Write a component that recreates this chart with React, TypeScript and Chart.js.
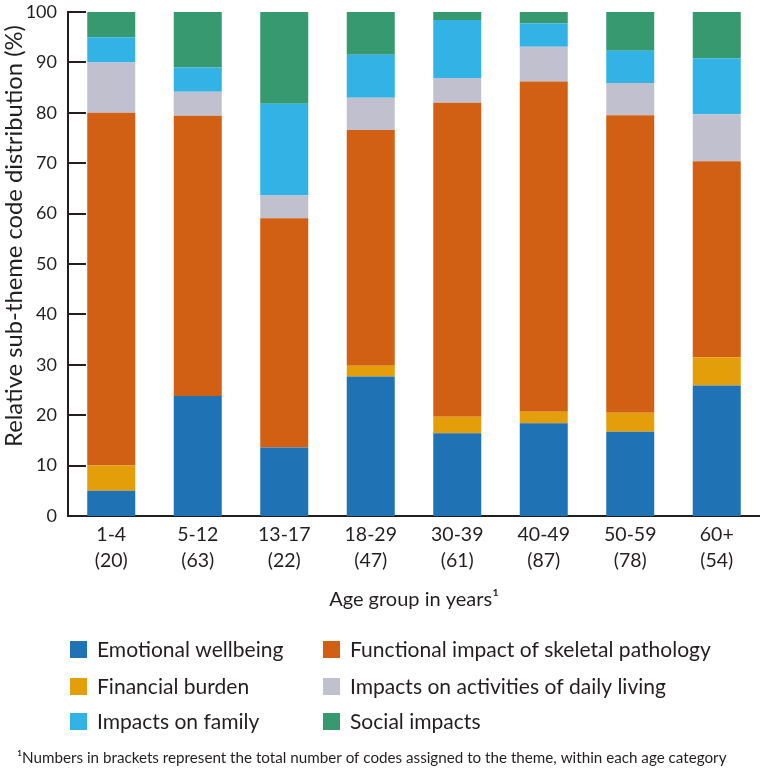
import React, { useEffect, useRef } from "react";
import { Chart, registerables } from "chart.js";

Chart.register(...registerables);

const ageGroups = ["1-4", "5-12", "13-17", "18-29", "30-39", "40-49", "50-59", "60+"];
const codeCounts = ["(20)", "(63)", "(22)", "(47)", "(61)", "(87)", "(78)", "(54)"];

const emotional = [5.0, 23.8, 13.6, 27.7, 16.4, 18.4, 16.7, 25.9];
const financial = [5.0, 0, 0, 2.1, 3.3, 2.3, 3.8, 5.6];
const functional = [70.0, 55.6, 45.5, 46.8, 62.3, 65.5, 59.0, 38.9];
const dailyLiving = [10.0, 4.8, 4.5, 6.4, 4.9, 6.9, 6.4, 9.3];
const family = [5.0, 4.8, 18.2, 8.5, 11.5, 4.6, 6.4, 11.1];
const social = [5.0, 11.1, 18.2, 8.5, 1.6, 2.3, 7.7, 9.3];

const seriesNames = [
  "Emotional wellbeing",
  "Functional impact of skeletal pathology",
  "Financial burden",
  "Impacts on activities of daily living",
  "Impacts on family",
  "Social impacts",
];
const seriesColors = ["#1f72b3", "#d16015", "#e49e09", "#c1c0cf", "#33b2e5", "#36996f"];
const seriesValues = [emotional, functional, financial, dailyLiving, family, social];
// stacking order bottom -> top
const stackOrder = [0, 2, 1, 3, 4, 5];

const yTitle = "Relative sub-theme code distribution (%)";
const xTitle = "Age group in years\u00B9";
const footnote =
  "\u00B9Numbers in brackets represent the total number of codes assigned to the theme, within each age category";

const FONT = "Lato, 'Open Sans', sans-serif";
const INK = "#231f20";

function fitSize(ctx: CanvasRenderingContext2D, text: string, target: number) {
  ctx.font = `20px ${FONT}`;
  const w = ctx.measureText(text).width;
  return (20 * target) / w;
}

const decorPlugin = {
  id: "decor",
  afterDraw(chart: any) {
    const ctx = chart.ctx as CanvasRenderingContext2D;
    const area = chart.chartArea;
    const y = chart.scales.y;
    ctx.save();
    // inward tick marks
    ctx.strokeStyle = INK;
    ctx.lineWidth = 2;
    y.ticks.forEach((t: any) => {
      const py = Math.round(y.getPixelForValue(t.value));
      ctx.beginPath();
      ctx.moveTo(area.left, py);
      ctx.lineTo(area.left + 18, py);
      ctx.stroke();
    });
    ctx.fillStyle = INK;
    // y title
    const ySize = fitSize(ctx, yTitle, 422);
    ctx.save();
    ctx.translate(14, 236);
    ctx.rotate(-Math.PI / 2);
    ctx.font = `${ySize}px ${FONT}`;
    ctx.textAlign = "center";
    ctx.textBaseline = "middle";
    ctx.fillText(yTitle, 0, 0);
    ctx.restore();
    // x title
    ctx.font = `20px ${FONT}`;
    ctx.textAlign = "center";
    ctx.textBaseline = "middle";
    ctx.fillText(xTitle, (area.left + area.right) / 2, 600);
    // legend (2 columns x 3 rows)
    const colX = [70, 323];
    const rowY = [649, 686, 721];
    const legSize = fitSize(ctx, seriesNames[1], 361);
    ctx.textAlign = "left";
    ctx.font = `${legSize}px ${FONT}`;
    chart.data.datasets.forEach((ds: any) => {
      const nameIdx = seriesNames.indexOf(ds.label);
      const c = nameIdx % 2;
      const r = Math.floor(nameIdx / 2);
      ctx.fillStyle = ds.backgroundColor;
      ctx.fillRect(colX[c], rowY[r] - 8, 17, 17);
      ctx.fillStyle = INK;
      ctx.fillText(ds.label, colX[c] + 27, rowY[r] + 1);
    });
    // footnote
    const fnSize = fitSize(ctx, footnote, 710);
    ctx.font = `${fnSize}px ${FONT}`;
    ctx.fillText(footnote, 17, 758);
    ctx.restore();
  },
};

export default function App() {
  const ref = useRef<HTMLCanvasElement | null>(null);
  useEffect(() => {
    document.body.style.margin = "0";
    const canvas = ref.current!;
    const chart = new Chart(canvas, {
      type: "bar",
      data: {
        labels: ageGroups.map((g, i) => [g, codeCounts[i]]),
        datasets: stackOrder.map((k) => ({
          label: seriesNames[k],
          data: seriesValues[k],
          backgroundColor: seriesColors[k],
          borderWidth: 0,
          categoryPercentage: 1,
          barPercentage: 0.555,
        })),
      },
      options: {
        responsive: false,
        animation: false,
        devicePixelRatio: 1,
        layout: { padding: { top: 12, left: 0, right: 0, bottom: 0 } },
        plugins: { legend: { display: false }, tooltip: { enabled: false } },
        scales: {
          x: {
            stacked: true,
            grid: { display: false, drawTicks: false },
            border: { display: true, color: INK, width: 2 },
            ticks: {
              color: INK,
              padding: 6,
              font: { family: FONT, size: 19.5, lineHeight: 1.33 },
              maxRotation: 0,
              autoSkip: false,
            },
            afterFit: (s: any) => {
              s.height = 255;
              s.paddingLeft = 0;
              s.paddingRight = 0;
            },
          },
          y: {
            stacked: true,
            min: 0,
            max: 100,
            grid: { display: false, drawTicks: false },
            border: { display: true, color: INK, width: 2 },
            ticks: {
              stepSize: 10,
              color: INK,
              padding: 11,
              font: { family: FONT, size: 18 },
            },
            afterFit: (s: any) => {
              s.width = 68;
              s.paddingTop = 0;
              s.paddingBottom = 0;
            },
          },
        },
      },
      plugins: [decorPlugin],
    });
    return () => chart.destroy();
  }, []);
  return (
    <div style={{ position: "absolute", left: 0, top: 0, width: 760, height: 771 }}>
      <canvas ref={ref} width={760} height={771} style={{ width: 760, height: 771 }} />
    </div>
  );
}
